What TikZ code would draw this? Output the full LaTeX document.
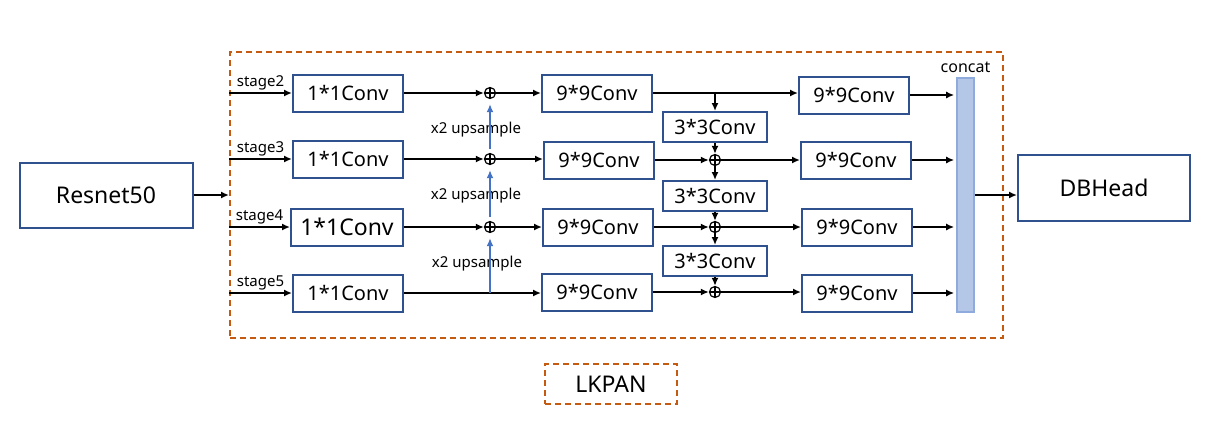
\documentclass[tikz,border=0pt]{standalone}
\usepackage{fontspec}
\setmainfont{Noto Sans}
\usetikzlibrary{arrows.meta}

\definecolor{boxblue}{RGB}{47,82,143}
\definecolor{lkorange}{RGB}{197,90,17}
\definecolor{upblue}{RGB}{68,114,196}
\definecolor{catfill}{RGB}{180,199,231}
\definecolor{catline}{RGB}{143,170,220}

\tikzset{
  convbox/.style={draw=boxblue,line width=1pt,minimum width=55pt,minimum height=18.5pt,
    inner sep=0pt,font=\fontsize{10}{12}\selectfont},
  smallconv/.style={convbox,minimum width=52pt,minimum height=15pt},
  bigbox/.style={convbox,minimum width=86.5pt,minimum height=32.5pt,font=\fontsize{11.5}{13}\selectfont},
  sumnode/.style={circle,draw,line width=0.6pt,inner sep=0pt,minimum size=5.5pt,
    path picture={\draw[line width=0.6pt] (path picture bounding box.north)--(path picture bounding box.south)
      (path picture bounding box.west)--(path picture bounding box.east);}},
  tag/.style={font=\fontsize{7.5}{9}\selectfont,inner sep=1pt},
  flow/.style={line width=1pt,-{Latex[length=4pt,width=3.5pt]}},
  upflow/.style={flow,draw=upblue},
  lkdash/.style={draw=lkorange,line width=1pt,dash pattern=on 3pt off 2pt}
}

\begin{document}
\begin{tikzpicture}[x=0.5pt,y=-0.5pt]
\useasboundingbox (0,0) rectangle (1212,424);

% frame of the neck
\node[lkdash,minimum width=386.5pt,minimum height=143pt,inner sep=0pt] (frame) at (616.5,195) {};
\node[lkdash,minimum width=66pt,minimum height=20pt,inner sep=0pt,font=\fontsize{11.5}{13}\selectfont] (lkpan) at (611,384) {LKPAN};

\node[bigbox] (res) at (106,195) {Resnet50};
\node[bigbox,minimum width=86pt,minimum height=33pt] (db) at (1104,188) {DBHead};

% 1*1 convs
\node[convbox] (a1) at (348,93) {1*1Conv};
\node[convbox] (a2) at (348,159) {1*1Conv};
\node[convbox,minimum width=56pt,font=\fontsize{11.5}{13}\selectfont] (a3) at (347,227) {1*1Conv};
\node[convbox] (a4) at (348,293) {1*1Conv};

% sums after upsampling
\node[sumnode] (p1) at (490,93) {};
\node[sumnode] (p2) at (490,159) {};
\node[sumnode] (p3) at (490,227) {};
\coordinate (j4) at (490,293);

% 9*9 convs, first column
\node[convbox] (n1) at (597,93) {9*9Conv};
\node[convbox] (n2) at (599,160) {9*9Conv};
\node[convbox] (n3) at (598,227) {9*9Conv};
\node[convbox] (n4) at (597,292) {9*9Conv};

% 3*3 convs and bottom-up sums
\coordinate (b1) at (715,93);
\node[smallconv] (k1) at (715,127) {3*3Conv};
\node[smallconv] (k2) at (715,196) {3*3Conv};
\node[smallconv] (k3) at (715,261) {3*3Conv};
\node[sumnode] (q2) at (715,160) {};
\node[sumnode] (q3) at (715,227) {};
\node[sumnode] (q4) at (715,292) {};

% 9*9 convs, second column
\node[convbox] (m1) at (854,95) {9*9Conv};
\node[convbox] (m2) at (856,160) {9*9Conv};
\node[convbox] (m3) at (857,227) {9*9Conv};
\node[convbox] (m4) at (857,293) {9*9Conv};

\node[draw=catline,fill=catfill,line width=0.8pt,minimum width=8.5pt,minimum height=117pt,inner sep=0pt] (cat) at (965.5,195) {};
\node[tag,font=\fontsize{8}{9}\selectfont,above=1pt] (catlbl) at (cat.north) {concat};

% upsample labels
\node[tag] (u1) at (476,130) {x2 upsample};
\node[tag] (u2) at (476,196) {x2 upsample};
\node[tag] (u3) at (477,264) {x2 upsample};

% inputs
\draw[flow] (res.east) -- (frame.west);
\draw[flow] (frame.west |- a1.west) -- (a1.west) node[tag,midway,above] {stage2};
\draw[flow] (frame.west |- a2.west) -- (a2.west) node[tag,midway,above] {stage3};
\draw[flow] (frame.west |- a3.west) -- (a3.west) node[tag,midway,above] {stage4};
\draw[flow] (frame.west |- a4.west) -- (a4.west) node[tag,midway,above] {stage5};

% top-down path
\draw[flow] (a1.east) -- (p1.west);
\draw[flow] (a2.east) -- (p2.west);
\draw[flow] (a3.east) -- (p3.west);
\draw[flow] (a4.east) -- (a4.east -| n4.west);
\draw[upflow,shorten <=2pt,shorten >=2.5pt] (p2.north) -- (p1.south);
\draw[upflow,shorten <=2pt,shorten >=2.5pt] (p3.north) -- (p2.south);
\draw[upflow,shorten >=2.5pt] (j4) -- (p3.south);
\draw[flow] (p1.east) -- (p1 -| n1.west);
\draw[flow] (p2.east) -- (p2 -| n2.west);
\draw[flow] (p3.east) -- (p3 -| n3.west);

% bottom-up path
\draw[flow] (n1.east) -- (n1.east -| m1.west);
\draw[flow] (b1) -- (k1.north);
\draw[flow] (k1.south) -- (q2.north);
\draw[flow] (n2.east) -- (q2.west);
\draw[flow] (q2.east) -- (q2 -| m2.west);
\draw[flow] (q2.south) -- (k2.north);
\draw[flow] (k2.south) -- (q3.north);
\draw[flow] (n3.east) -- (q3.west);
\draw[flow] (q3.east) -- (q3 -| m3.west);
\draw[flow] (q3.south) -- (k3.north);
\draw[flow] (k3.south) -- (q4.north);
\draw[flow] (n4.east) -- (q4.west);
\draw[flow] (q4.east) -- (q4 -| m4.west);

% to concat and head
\draw[flow,shorten >=1pt] (m1.east) -- (m1.east -| cat.west);
\draw[flow,shorten >=1pt] (m2.east) -- (m2.east -| cat.west);
\draw[flow,shorten >=1pt] (m3.east) -- (m3.east -| cat.west);
\draw[flow,shorten >=1pt] (m4.east) -- (m4.east -| cat.west);
\draw[flow] (cat.east) -- (cat.east -| db.west);
\end{tikzpicture}
\end{document}
